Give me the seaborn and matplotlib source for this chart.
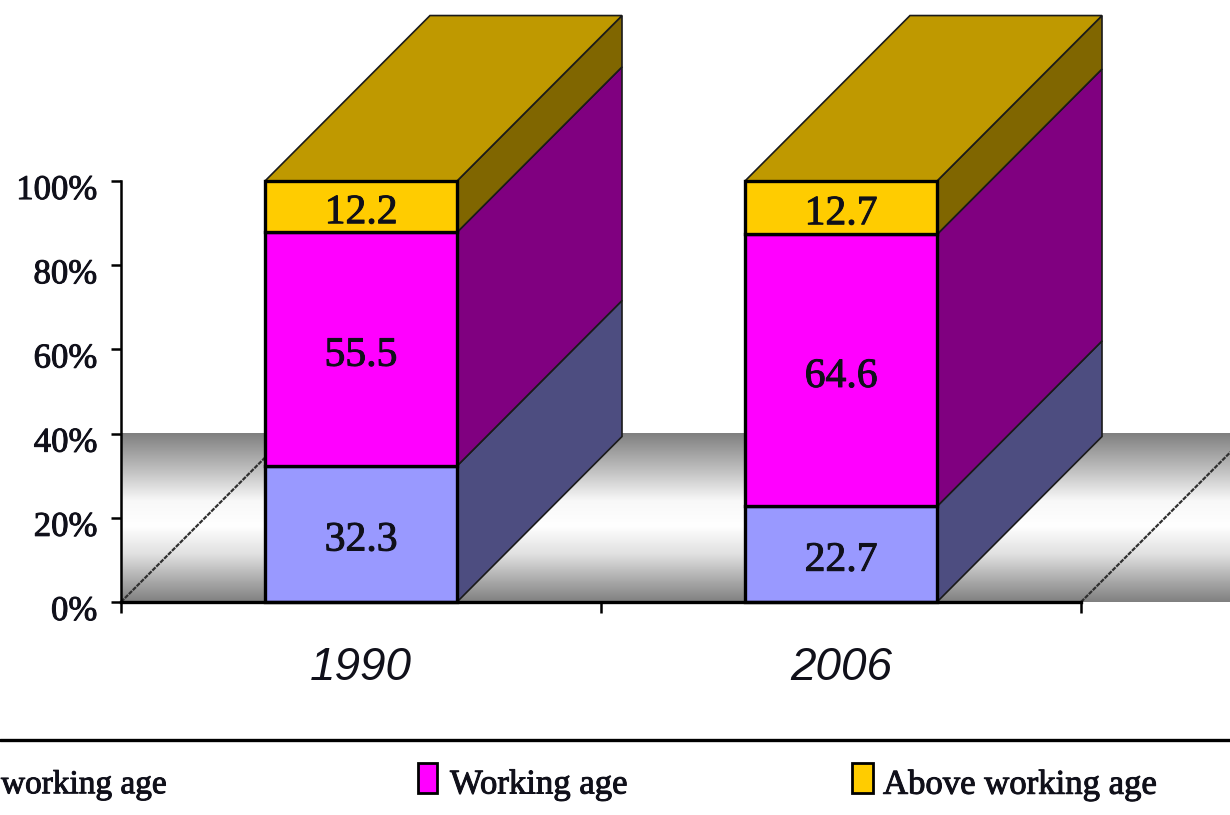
# Population age structure, 1990 vs 2006 (fake 3D stacked columns)
import numpy as np
import matplotlib
matplotlib.use("Agg")
import matplotlib.pyplot as plt
import matplotlib.patheffects as pe
from matplotlib.colors import LinearSegmentedColormap
from matplotlib.lines import Line2D
from matplotlib.patches import Polygon, Rectangle
from matplotlib.transforms import ScaledTranslation
import seaborn as sns

# Data
years = ["1990", "2006"]
below_working = [32.3, 22.7]
working = [55.5, 64.6]
above_working = [12.2, 12.7]
y_ticks = [0, 20, 40, 60, 80, 100]
# the first legend entry is cropped by the picture edge, only this much shows
legend_names = ["working age", "Working age", "Above working age"]

# Colours
front_colors = ["#9999FF", "#FF00FF", "#FFCC00"]
side_colors = ["#4D4D80", "#800080", "#806600"]
top_color = "#BF9900"
text_color = "#10101A"

sns.set_theme(style="white")
plt.rcParams["font.family"] = ["Liberation Serif", "DejaVu Serif"]
heavy = [pe.withStroke(linewidth=0.7, foreground=text_color)]

fig = plt.figure(figsize=(12.3, 8.15), dpi=100)
ax = fig.add_axes([0, 0, 1, 1])
ax.patch.set_alpha(0)

# Stacked front faces
bottom = np.zeros(len(years))
for values, color in zip([below_working, working, above_working], front_colors):
    sns.barplot(x=years, y=values, bottom=bottom, color=color, saturation=1, width=0.4,
                edgecolor="black", linewidth=2.4, legend=False, zorder=4, ax=ax)
    bottom = bottom + np.array(values)

# Scales: one category = 480 px, one percent = 4.21 px
ax.set_xlim(-361 / 480, 869 / 480)
ax.set_ylim(-213 / 4.21, 602 / 4.21)
depth_x = 165 / 480
depth_y = 39.3

# Back wall gradient
stops = [(0.0, "#808080"), (0.22, "#c0c0c0"), (0.4, "#f8f8f8"), (0.55, "#ffffff"),
         (0.72, "#e0e0e0"), (0.88, "#a8a8a8"), (1.0, "#808080")]
wall_cmap = LinearSegmentedColormap.from_list("wall", stops)
ax.imshow(np.linspace(0, 1, 256).reshape(-1, 1), cmap=wall_cmap, aspect="auto",
          extent=(-0.5, ax.get_xlim()[1], 0, 40), origin="upper", zorder=1)
ax.set_xlim(-361 / 480, 869 / 480)
ax.set_ylim(-213 / 4.21, 602 / 4.21)

# Floor edges
for x0 in [-0.5, 1.5]:
    ax.plot([x0, x0 + depth_x], [0, depth_y], color="#303030", lw=1.6, ls=(0, (2, 0.5)), zorder=2)

# Side and top faces, taken from the bars seaborn drew
for container, side in zip(ax.containers, side_colors):
    for bar in container:
        xr = bar.get_x() + bar.get_width()
        y0 = bar.get_y()
        y1 = y0 + bar.get_height()
        ax.add_patch(Polygon([(xr, y0), (xr + depth_x, y0 + depth_y), (xr + depth_x, y1 + depth_y), (xr, y1)],
                             facecolor=side, edgecolor="#1a1a1a", lw=1.2, zorder=3))
for bar in ax.containers[-1]:
    xl = bar.get_x()
    xr = xl + bar.get_width()
    y1 = bar.get_y() + bar.get_height()
    ax.add_patch(Polygon([(xl, y1), (xl + depth_x, y1 + depth_y), (xr + depth_x, y1 + depth_y), (xr, y1)],
                         facecolor=top_color, edgecolor="#1a1a1a", lw=1.2, zorder=3))

# Value labels, sitting a little under the segment centre
for container in ax.containers:
    for label in ax.bar_label(container, fmt="%.1f", label_type="center", fontsize=30, color=text_color, zorder=6):
        label.xyann = (0, -4.5)
        label.set_path_effects(heavy)

# Axes
for side in ["top", "right"]:
    ax.spines[side].set_visible(False)
ax.spines["left"].set_position(("data", -0.5))
ax.spines["left"].set_bounds(0, 100)
ax.spines["left"].set_linewidth(1.8)
ax.spines["left"].set_color("black")
ax.spines["bottom"].set_position(("data", 0))
ax.spines["bottom"].set_bounds(-0.5, 1.5)
ax.spines["bottom"].set_linewidth(2.4)
ax.spines["bottom"].set_color("black")
ax.spines["bottom"].set_zorder(5)

ax.set_yticks(y_ticks)
ax.set_yticklabels([f"{t}%" for t in y_ticks], fontsize=25, color=text_color)
ax.tick_params(axis="y", left=True, length=7, width=1.8, pad=10, color="black")
shift_down = ScaledTranslation(0, -4 / 72, fig.dpi_scale_trans)
for label in ax.get_yticklabels():
    label.set_transform(label.get_transform() + shift_down)
    label.set_path_effects(heavy)
ax.set_xticks([0, 1])
ax.set_xticklabels(years, fontsize=33, style="italic", family=["Liberation Sans"], color=text_color)
ax.tick_params(axis="x", which="major", bottom=False, pad=26)
ax.set_xticks([-0.5, 0.5, 1.5], minor=True)
ax.tick_params(axis="x", which="minor", bottom=True, length=8, width=1.8, color="black")
ax.set_xlabel("")
ax.set_ylabel("")

# Legend strip
fig.add_artist(Line2D([0, 1], [1 - 740 / 815] * 2, color="black", lw=2.4))
legend_text_x = [1, 450, 883]
legend_sizes = [24, 25, 25]
for name, tx, size in zip(legend_names, legend_text_x, legend_sizes):
    fig.text(tx / 1230, 1 - 785 / 815, name, fontsize=size, color=text_color, ha="left", va="center",
             path_effects=heavy)
for color, bx, bw in zip(front_colors[1:], [418, 852], [19, 21]):
    fig.add_artist(Rectangle((bx / 1230, 1 - 793 / 815), bw / 1230, 30 / 815, transform=fig.transFigure,
                             facecolor=color, edgecolor="black", lw=2))

fig.savefig("out.png", dpi=100)
